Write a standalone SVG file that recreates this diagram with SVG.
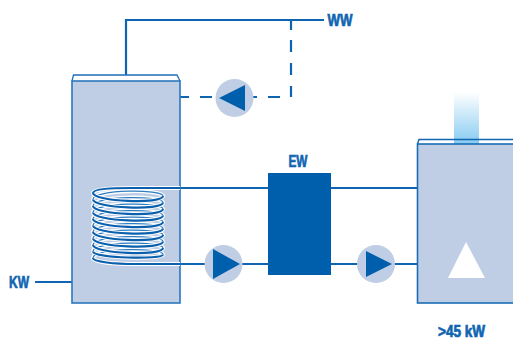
<svg xmlns="http://www.w3.org/2000/svg" width="513" height="340" viewBox="0 0 513 340">
<style>
.l{fill:none;stroke:#0f65b2;stroke-width:2.2}
.t{fill:#bfcee5;stroke:#2a78bd;stroke-width:1.6}
.c{fill:#fff;stroke:#1f6fb8;stroke-width:1.3}
.p{fill:#bfcee5}
.a{fill:#005fad}
text{font-family:"Liberation Sans",Arial,sans-serif;font-weight:700;font-size:17px;fill:#0f65b2;stroke:#0f65b2;stroke-width:.7}
.w{fill:none;stroke:#fff;stroke-width:4}
.bb{fill:none;stroke:#2f7cc0;stroke-width:1.3}
.bf{fill:none;stroke:#0b60ad;stroke-width:2.2}
</style>
<defs>
<linearGradient id="g" x1="0" y1="0" x2="0" y2="1"><stop offset="0" stop-color="#fff"/><stop offset="1" stop-color="#86cbf1"/></linearGradient>
<path id="back" d="M163 196C163 189 93 189 93 199.500M163 202.500C163 195.500 93 195.500 93 206M163 209C163 202 93 202 93 212.500M163 215.500C163 208.500 93 208.500 93 219M163 222C163 215 93 215 93 225.500M163 228.500C163 221.500 93 221.500 93 232M163 235C163 228 93 228 93 238.500M163 241.500C163 234.500 93 234.500 93 245M163 248C163 241 93 241 93 251.500M163 254.500C163 247.500 93 247.500 93 258"/>
<path id="front" d="M180 188H130C112 188 93 189 93 193C93 201.500 163 204.500 163 196M93 199.500C93 208 163 211 163 202.500M93 206C93 214.500 163 217.500 163 209M93 212.500C93 221 163 224 163 215.500M93 219C93 227.500 163 230.500 163 222M93 225.500C93 234 163 237 163 228.500M93 232C93 240.500 163 243.500 163 235M93 238.500C93 247 163 250 163 241.500M93 245C93 253.500 163 256.500 163 248M93 251.500C93 258 163 260 163 254.500M93 258C93 262 115 264 135 264H180"/>
</defs>
<g id="connectors">
<path class="l" d="M126 75V20H324"/>
<path class="l" d="M291 20V30M291 40V52M291 63V75M291 86V97M280 97H268M212 97H200M189 97H180M257 97H253"/>
<path class="l" d="M35 282H72"/>
<path class="l" d="M180 188H268M331 188H417M180 264H268M331 264H417"/>
</g>
<g id="tank">
<path class="c" d="M72 81L73.500 75H177L180 81"/>
<rect class="t" x="72" y="81" width="108" height="222"/>
</g>
<g id="coil">
<use href="#back" class="w"/>
<use href="#back" class="bb"/>
<use href="#front" class="w"/>
<use href="#front" class="bf"/>
</g>
<g id="pump-top">
<circle class="p" cx="234.500" cy="98" r="19"/>
<polygon class="a" points="219,98 245,85 245,111"/>
</g>
<g id="pump-left">
<circle class="p" cx="223.500" cy="264" r="19"/>
<polygon class="a" points="213,249 240,264 213,279"/>
</g>
<g id="pump-right">
<circle class="p" cx="376" cy="264" r="19"/>
<polygon class="a" points="366,251 392,264 366,277"/>
</g>
<g id="exchanger">
<rect class="a" x="268" y="173" width="63" height="102"/>
<text x="288.500" y="166.500" textLength="19" lengthAdjust="spacingAndGlyphs">EW</text>
</g>
<g id="boiler">
<rect x="454" y="92" width="25" height="52" fill="url(#g)"/>
<path class="l" style="stroke-width:1.4" d="M417.500 144L419 139.500H513"/>
<rect class="t" x="417.500" y="144" width="100" height="159" style="stroke:#1a6db6"/>
<polygon points="466,242 485,278 448,278" fill="#fff"/>
</g>
<g id="labels">
<text x="327.500" y="26" textLength="25" lengthAdjust="spacingAndGlyphs">WW</text>
<text x="9" y="287.500" textLength="20" lengthAdjust="spacingAndGlyphs">KW</text>
<text x="438" y="336.500" font-size="16" style="font-size:16px" textLength="47" lengthAdjust="spacingAndGlyphs">&gt;45 kW</text>
</g>
</svg>
